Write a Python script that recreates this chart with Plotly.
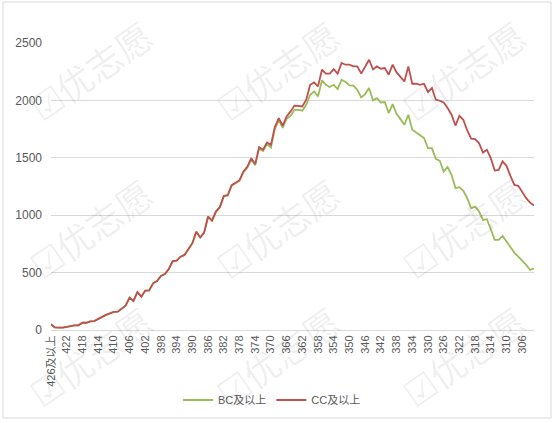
import plotly.graph_objects as go

# categories: "426及以上", 425, ..., 303
categories = ["426及以上"] + [str(v) for v in range(425, 302, -1)]

bc_values = [50, 22, 20, 20, 27, 35, 41, 41, 64, 63,
             75, 78, 97, 110, 132, 145, 158, 160, 188, 212,
             282, 253, 329, 290, 343, 345, 407, 427, 471, 488,
             532, 600, 605, 639, 654, 706, 756, 855, 805, 849,
             988, 953, 1032, 1070, 1165, 1172, 1258, 1278, 1298, 1372,
             1414, 1485, 1435, 1580, 1560, 1620, 1590, 1750, 1830, 1760,
             1840, 1866, 1918, 1918, 1910, 1962, 2049, 2078, 2035, 2174,
             2136, 2116, 2136, 2099, 2180, 2160, 2131, 2128, 2093, 2026,
             2055, 2108, 2000, 2020, 1982, 1986, 1890, 1968, 1884, 1837,
             1788, 1875, 1744, 1721, 1700, 1672, 1584, 1584, 1491, 1474,
             1381, 1419, 1352, 1236, 1244, 1212, 1148, 1061, 1075, 1032,
             959, 965, 878, 785, 785, 820, 770, 721, 674, 639,
             604, 567, 523, 538]

cc_values = [50, 22, 20, 20, 27, 35, 41, 41, 64, 63,
             75, 78, 97, 110, 132, 145, 158, 160, 188, 212,
             282, 253, 329, 290, 343, 345, 407, 427, 471, 488,
             532, 600, 605, 639, 654, 706, 756, 855, 805, 849,
             988, 953, 1032, 1070, 1168, 1174, 1262, 1282, 1305, 1381,
             1424, 1497, 1445, 1593, 1570, 1633, 1613, 1768, 1846, 1779,
             1860, 1904, 1955, 1953, 1947, 2006, 2136, 2157, 2122, 2267,
             2233, 2233, 2273, 2233, 2326, 2311, 2311, 2296, 2296, 2233,
             2296, 2354, 2270, 2296, 2276, 2282, 2224, 2311, 2244, 2209,
             2165, 2296, 2145, 2145, 2136, 2145, 2073, 2108, 2006, 1997,
             1982, 1933, 1875, 1781, 1866, 1831, 1738, 1666, 1663, 1628,
             1546, 1570, 1497, 1389, 1395, 1468, 1430, 1343, 1264, 1256,
             1206, 1148, 1110, 1084]

tick_labels = categories[::4]
y_ticks = [0, 500, 1000, 1500, 2000, 2500]

FONT = "Liberation Sans, Noto Sans CJK SC, sans-serif"

fig = go.Figure()
fig.add_trace(go.Scatter(x=categories, y=bc_values, mode="lines", name="BC及以上",
                         line=dict(color="#9bbb59", width=1.8)))
fig.add_trace(go.Scatter(x=categories, y=cc_values, mode="lines", name="CC及以上",
                         line=dict(color="#c0504d", width=1.8)))

# plot area in pixels: x 51..534, y 43..330
L, R, T, B = 51, 534, 43, 330
W, H = R - L, B - T


def px(x):
    return (x - L) / W


def py(y):
    return (B - y) / H


annotations = []
for cx in (90, 277, 463):
    for cy in (70, 228, 356):
        annotations.append(dict(
            x=px(cx), y=py(cy), xref="paper", yref="paper",
            text="☑优志愿", showarrow=False, textangle=-35,
            font=dict(size=36, color="rgba(0,0,0,0.07)",
                      family="Noto Sans CJK SC, sans-serif"),
            xanchor="center", yanchor="middle"))

fig.update_layout(
    template="none",
    width=556, height=423,
    margin=dict(l=L, r=556 - R, t=T, b=423 - B, pad=0, autoexpand=False),
    paper_bgcolor="white", plot_bgcolor="white",
    font=dict(family=FONT, size=11, color="#595959"),
    showlegend=True,
    legend=dict(orientation="h", x=px(272), xanchor="center", y=py(400), yanchor="middle",
                font=dict(size=11, color="#595959", family=FONT),
                itemwidth=30, tracegroupgap=0, bgcolor="rgba(0,0,0,0)"),
    xaxis=dict(type="category", tickmode="array", tickvals=tick_labels, ticktext=tick_labels,
               tickangle=-90, showgrid=False, showline=True, linecolor="#d9d9d9",
               ticks="", range=[0, len(categories) - 1], tickfont=dict(size=11),
               zeroline=False, automargin=False),
    yaxis=dict(range=[0, 2500], tickvals=y_ticks, showgrid=True, gridcolor="#d9d9d9",
               gridwidth=1, zeroline=False, showline=False, ticks="", ticklabelstandoff=8,
               tickfont=dict(size=12), automargin=False),
    shapes=[dict(type="rect", xref="paper", yref="paper",
                 x0=px(3), x1=px(551), y0=py(418), y1=py(2),
                 line=dict(color="#d9d9d9", width=1), fillcolor="rgba(0,0,0,0)",
                 layer="below")],
    annotations=annotations,
)

fig.write_html(
    "out.html",
    config={"displayModeBar": False},
    post_script="document.body.style.margin='0';document.body.style.padding='0';"
                "document.documentElement.style.overflow='hidden';",
)
